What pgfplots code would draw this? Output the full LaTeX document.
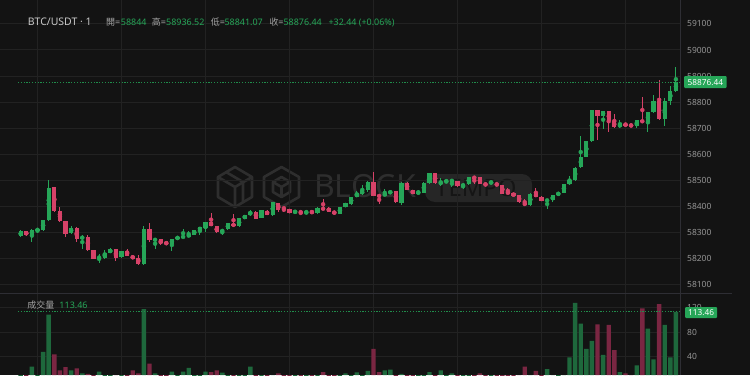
\documentclass[border=0pt]{standalone}
\usepackage{pgfplots}
\pgfplotsset{compat=1.18}
\usepackage{pgfplotstable}
\usepackage{fontspec}
\setmainfont{Noto Sans}
\newfontfamily\cjk{Noto Sans CJK TC}
\definecolor{bgc}{RGB}{19,19,19}
\definecolor{upc}{RGB}{38,166,88}
\definecolor{dnc}{RGB}{214,66,104}
\definecolor{upv}{RGB}{30,104,60}
\definecolor{dnv}{RGB}{122,38,66}
\definecolor{gridc}{RGB}{34,34,34}
\definecolor{tickc}{RGB}{150,150,150}
\definecolor{sepc}{RGB}{46,46,52}
\definecolor{wmc}{RGB}{46,46,46}
\definecolor{wmbox}{RGB}{38,38,38}
\definecolor{wmtxt}{RGB}{21,21,21}
\definecolor{titc}{RGB}{200,200,200}
\definecolor{labc}{RGB}{165,165,165}

\pgfplotstableread{
i o h l c v
0 58288.6 58310.4 58284.8 58306.6 8
2 58291.3 58312.3 58265.6 58310.4 24
3 58310.4 58316.9 58300.1 58314.3 9
4 58310.4 58350.7 58308.5 58348.7 48
5 58348.7 58502.0 58346.8 58474.0 109
9 58297.8 58326.9 58295.9 58319.2 18
11 58279.8 58291.3 58237.6 58283.6 13
14 58203.9 58218.5 58182.9 58207.8 16
15 58202.0 58233.8 58200.1 58223.5 9
16 58223.5 58241.5 58222.3 58240.3 8
18 58205.8 58230.0 58203.9 58228.8 9
22 58180.2 58325.7 58175.2 58316.9 118
24 58272.9 58279.8 58236.5 58276.7 13
27 58256.8 58278.6 58230.0 58277.1 16
28 58275.9 58286.3 58274.8 58284.8 9
29 58282.8 58315.4 58282.5 58286.7 16
30 58283.6 58307.7 58282.5 58294.0 22
31 58292.4 58311.6 58291.3 58310.4 9
32 58307.7 58324.6 58291.3 58323.1 8
33 58320.8 58342.2 58303.9 58341.1 16
36 58302.8 58314.3 58291.3 58313.1 14
37 58313.1 58339.9 58311.6 58336.1 8
39 58325.7 58357.5 58324.6 58356.4 8
40 58354.5 58369.0 58352.6 58367.9 9
41 58367.9 58387.0 58366.7 58380.5 24
43 58357.5 58389.7 58356.4 58387.0 9
45 58367.9 58420.4 58366.7 58418.8 10
49 58378.2 58384.4 58376.7 58383.2 7
51 58377.5 58383.2 58371.7 58381.3 7
53 58374.4 58397.4 58372.9 58395.9 7
57 58374.4 58401.2 58372.9 58399.7 8
58 58399.7 58413.9 58398.5 58412.7 13
59 58410.0 58439.5 58408.9 58438.0 9
60 58438.0 58459.8 58436.8 58451.0 14.5
61 58447.2 58482.8 58445.7 58463.7 9
62 58463.7 58497.0 58456.0 58495.5 17
65 58440.7 58467.5 58439.5 58451.0 18
66 58451.0 58461.0 58449.5 58459.8 19
68 58416.5 58493.2 58406.2 58491.6 12
71 58452.9 58463.7 58448.3 58456.8 8
72 58453.3 58493.2 58452.2 58491.6 8
73 58489.3 58528.8 58487.8 58527.6 15
75 58486.7 58509.6 58479.0 58495.5 18
76 58493.2 58503.1 58491.6 58502.0 9
77 58497.4 58502.0 58476.3 58501.2 13
79 58476.3 58490.5 58467.5 58489.3 8
80 58486.7 58516.1 58485.5 58514.6 8
84 58489.7 58498.1 58488.6 58493.5 8
91 58406.2 58452.2 58405.0 58451.0 10
94 58423.4 58429.2 58393.6 58427.3 20
95 58425.4 58445.7 58419.6 58444.5 10
96 58444.5 58454.9 58443.4 58453.3 9
97 58453.3 58486.7 58452.2 58485.5 10
98 58485.5 58517.3 58484.0 58502.0 39
99 58502.0 58551.8 58500.8 58550.6 128
100 58550.6 58670.5 58549.1 58591.2 94
101 58591.2 58652.5 58590.1 58651.4 53
102 58651.4 58771.3 58650.2 58770.1 66
104 58748.3 58767.5 58700.0 58766.3 43
107 58703.9 58731.8 58702.3 58719.2 15
110 58710.0 58733.0 58700.0 58731.8 26
112 58723.0 58762.5 58687.0 58761.3 86
113 58761.3 58827.6 58759.8 58804.6 36
115 58735.7 58815.0 58710.0 58804.6 92
116 58804.6 58862.1 58789.3 58842.9 39
117 58844.0 58936.52 58841.07 58876.44 113.46
}\up

\pgfplotstableread{
i o h l c v
1 58306.6 58308.5 58289.4 58291.3 8
6 58474.0 58475.2 58379.4 58384.4 44
7 58384.4 58397.4 58343.0 58344.9 18
8 58344.9 58346.8 58284.8 58297.8 23
10 58319.2 58321.9 58265.6 58278.6 21
12 58284.8 58291.3 58231.9 58233.8 12
13 58233.8 58235.7 58200.1 58202.0 9
17 58238.8 58240.3 58192.8 58205.8 10
19 58228.8 58238.8 58210.8 58212.0 9
20 58213.5 58214.6 58200.1 58201.2 18
21 58202.0 58214.6 58178.3 58180.2 13
23 58316.9 58336.1 58265.6 58272.1 29
25 58275.9 58277.1 58253.0 58259.5 9
26 58264.5 58265.6 58255.6 58256.8 8
34 58341.1 58376.7 58324.6 58325.7 15
35 58325.7 58326.9 58301.6 58302.8 18
38 58336.1 58374.4 58324.6 58325.7 9
42 58380.5 58382.1 58353.7 58355.2 8
44 58384.4 58385.9 58366.7 58367.9 8
46 58415.0 58416.5 58379.4 58389.7 13
47 58395.9 58397.4 58380.5 58392.0 7
48 58390.9 58392.0 58375.6 58376.7 7
50 58380.5 58382.1 58371.7 58376.7 7
52 58383.2 58384.4 58372.9 58374.4 7
54 58395.5 58428.0 58390.9 58391.6 15
55 58395.9 58397.4 58379.4 58380.5 8
56 58380.5 58382.1 58372.9 58374.4 8
63 58495.5 58533.8 58440.7 58441.8 53
64 58443.7 58444.5 58408.9 58439.9 15
67 58459.8 58461.0 58415.0 58416.5 9
69 58491.6 58493.2 58462.5 58463.7 8
70 58463.7 58464.8 58449.5 58451.0 8
74 58527.6 58528.8 58487.8 58489.3 9
78 58499.3 58500.8 58477.8 58479.0 8
81 58513.5 58514.6 58486.7 58509.6 8
82 58512.3 58513.5 58485.5 58486.7 13
83 58488.6 58490.5 58482.8 58484.7 8
85 58487.4 58488.6 58482.8 58483.6 8
86 58482.8 58484.0 58449.5 58451.0 8
87 58457.2 58470.2 58449.5 58451.0 8
88 58451.0 58452.2 58440.7 58441.8 8
89 58444.5 58445.7 58415.0 58416.5 10
90 58416.5 58429.2 58405.0 58406.2 24
92 58451.0 58470.2 58436.8 58438.0 17
93 58438.0 58439.5 58421.5 58422.7 9
103 58770.1 58771.3 58655.2 58748.3 93
105 58766.3 58767.5 58687.0 58729.2 92
106 58729.2 58753.7 58702.3 58703.9 51
108 58719.2 58720.3 58710.0 58711.5 13
109 58714.6 58715.7 58709.6 58710.8 10
111 58731.8 58821.1 58721.5 58723.0 119
114 58804.6 58885.1 58734.5 58735.7 126
}\dn

\pgfplotsset{
  chartbase/.style={
    anchor=south west, scale only axis, width=680bp,
    xmin=-3.696, xmax=117.73,
    axis line style={draw=none},
    major tick length=0pt,
    xtick={3,18,...,108}, xticklabels={},
    yticklabel pos=right,
    yticklabel style={anchor=west, inner sep=0pt, xshift=7bp},
    xmajorgrids, ymajorgrids,
    grid style={gridc, line width=1bp},
    tick label style={font=\fontsize{8.5}{10}\selectfont, text=tickc},
    /pgf/number format/assume math mode=true,
    /pgf/number format/1000 sep={},
    scaled y ticks=false,
  },
  wick/.style={only marks, mark=none, #1,
    error bars/.cd, y dir=both, y explicit, error mark=none,
    error bar style={line width=1bp, #1}},
  body/.style={only marks, mark=none, #1,
    error bars/.cd, y dir=both, y explicit, error mark=none,
    error bar style={line width=4.2bp, #1}},
}

\begin{document}
\begin{tikzpicture}[x=1bp,y=1bp]
\fill[bgc] (0,0) rectangle (750,375);
% watermark
\begin{scope}[draw=wmc, line width=2.6bp, line join=round]
  % left icon
  \draw (235,208) -- (252,198) -- (252,178) -- (235,168) -- (218,178) -- (218,198) -- cycle;
  \draw (218,198) -- (235,188) -- (252,198) (235,188) -- (235,168);
  \draw (226,203) -- (243,193) (243,193) -- (243,173);
  % right icon
  \draw (281.5,208) -- (299,198) -- (299,178) -- (281.5,168) -- (264,178) -- (264,198) -- cycle;
  \draw (281.5,198) -- (290,193) -- (290,183) -- (281.5,178) -- (273,183) -- (273,193) -- cycle;
  \draw (273,193) -- (281.5,188) -- (290,193) (281.5,188) -- (281.5,178);
\end{scope}
\node[anchor=west, inner sep=0pt, text=wmc, font=\fontsize{32}{32}\selectfont\bfseries] at (314,189) {BLOCK};
\fill[wmbox, rounded corners=10bp] (425,173) rectangle (532,201);
\node[anchor=west, inner sep=0pt, text=wmtxt, font=\fontsize{24}{24}\selectfont\bfseries] at (435,187) {TEMPO};

\begin{axis}[chartbase, at={(0bp,82bp)}, height=293bp,
  ymin=58069.07, ymax=59191.55,
  ytick={58100,58200,...,59100}]
\addplot[wick=upc] table[x=i, y expr=(\thisrow{h}+\thisrow{l})/2, y error expr=(\thisrow{h}-\thisrow{l})/2]{\up};
\addplot[wick=dnc] table[x=i, y expr=(\thisrow{h}+\thisrow{l})/2, y error expr=(\thisrow{h}-\thisrow{l})/2]{\dn};
\addplot[body=upc] table[x=i, y expr=(\thisrow{o}+\thisrow{c})/2, y error expr={max(abs(\thisrow{c}-\thisrow{o})/2,1.9)}]{\up};
\addplot[body=dnc] table[x=i, y expr=(\thisrow{o}+\thisrow{c})/2, y error expr={max(abs(\thisrow{c}-\thisrow{o})/2,1.9)}]{\dn};
\addplot[upc!85!black, line width=1bp, dash pattern=on 1.2bp off 1.6bp] coordinates {(-0.48,58876.44) (117.73,58876.44)};
\end{axis}

\begin{axis}[chartbase, at={(0bp,0bp)}, height=81bp,
  ymin=10.3, ymax=142.5, ytick={40,80,120}]
\addplot[ybar, bar width=4.4bp, bar shift=0pt, fill=upv, draw=none] table[x=i, y=v]{\up};
\addplot[ybar, bar width=4.4bp, bar shift=0pt, fill=dnv, draw=none] table[x=i, y=v]{\dn};
\addplot[upc!85!black, line width=1bp, dash pattern=on 1.2bp off 1.6bp] coordinates {(-0.48,113.46) (117.73,113.46)};
\end{axis}

% separators
\draw[sepc, line width=1bp] (0,81.5) -- (732,81.5);
\draw[sepc, line width=1bp] (680.5,0) -- (680.5,375);

% last value labels
\node[anchor=west, fill=upc, text=white, rounded corners=1bp, inner xsep=3.5bp, inner ysep=0pt,
  minimum height=12bp, text height=6.1bp, text depth=0pt,
  font=\fontsize{8.3}{10}\selectfont] at (684,293) {58876.44};
\node[anchor=west, fill=upc, text=white, rounded corners=1bp, inner xsep=3bp, inner ysep=0pt,
  minimum height=11bp, text height=6.1bp, text depth=0pt,
  font=\fontsize{8.3}{10}\selectfont] at (685,62.5) {113.46};

% title row
\begin{scope}[every node/.style={anchor=base west, inner sep=0pt, font=\fontsize{9}{11}\selectfont}]
\node[text=titc, font=\fontsize{10.5}{12}\selectfont] at (27.7,350) {BTC/USDT · 1};
\node[text=labc] at (106,350) {{\cjk 開}=};
\node[text=upc] at (120.7,350) {58844};
\node[text=labc] at (151.7,350) {{\cjk 高}=};
\node[text=upc] at (166,350) {58936.52};
\node[text=labc] at (210.7,350) {{\cjk 低}=};
\node[text=upc] at (224.3,350) {58841.07};
\node[text=labc] at (269.3,350) {{\cjk 收}=};
\node[text=upc] at (283.3,350) {58876.44};
\node[text=upc] at (328.3,350) {+32.44 (+0.06\%)};
\node[text=labc] at (27.3,66.1) {{\cjk 成交量}};
\node[text=upc] at (59.3,66.1) {113.46};
\end{scope}
\pgfresetboundingbox
\path[use as bounding box] (0,0) rectangle (750,375);
\end{tikzpicture}
\end{document}
